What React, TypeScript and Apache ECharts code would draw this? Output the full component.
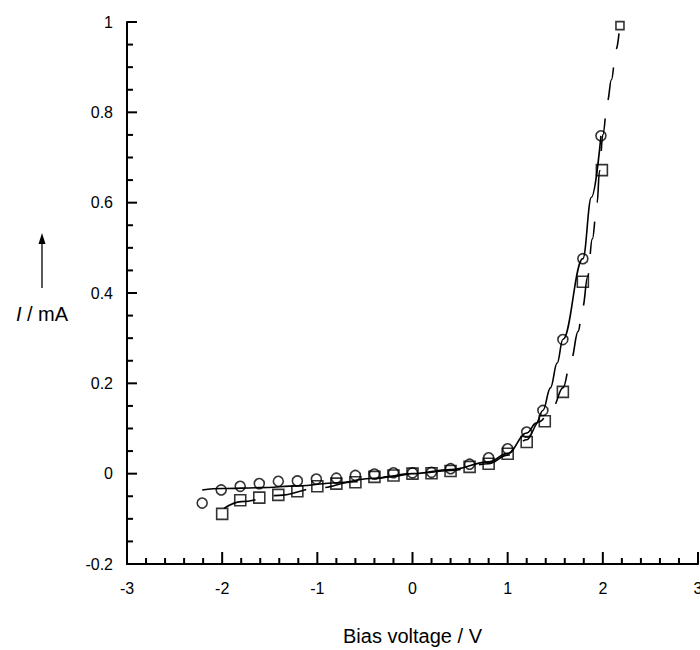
import React, { useEffect, useRef } from "react";
import * as echarts from "echarts";

// Measured points: circles (solid fit) and squares (dashed fit)
const circleV = [-2.21, -2.01, -1.81, -1.61, -1.41, -1.21, -1.01, -0.8, -0.6, -0.4, -0.2, 0, 0.2, 0.4, 0.6, 0.8, 1.0, 1.2, 1.37, 1.58, 1.79, 1.98];
const circleI = [-0.065, -0.036, -0.028, -0.022, -0.017, -0.016, -0.012, -0.01, -0.004, -0.001, 0.002, 0.002, 0.003, 0.011, 0.021, 0.035, 0.055, 0.092, 0.14, 0.297, 0.476, 0.748];

const squareV = [-2.0, -1.81, -1.61, -1.41, -1.21, -1.0, -0.8, -0.6, -0.4, -0.2, 0, 0.2, 0.4, 0.6, 0.8, 1.0, 1.2, 1.39, 1.58, 1.79, 1.99, 2.18];
const squareI = [-0.089, -0.059, -0.053, -0.047, -0.039, -0.028, -0.022, -0.019, -0.007, -0.004, 0.0, 0.001, 0.006, 0.015, 0.022, 0.044, 0.07, 0.116, 0.181, 0.425, 0.672, 0.992];

// Hand-drawn fit curves
const solidFitV = [-2.21, -2.0, -1.6, -1.2, -0.8, -0.4, 0, 0.4, 0.8, 1.0, 1.2, 1.3, 1.37, 1.45, 1.52, 1.58, 1.79, 1.88, 1.98];
const solidFitI = [-0.036, -0.033, -0.031, -0.027, -0.02, -0.01, 0.0, 0.009, 0.026, 0.045, 0.09, 0.112, 0.14, 0.19, 0.245, 0.297, 0.476, 0.612, 0.748];

const dashFitV = [-1.98, -1.8, -1.4, -1.0, -0.6, -0.2, 0, 0.4, 0.8, 1.0, 1.2, 1.33, 1.48, 1.58, 1.67, 1.74, 1.79, 1.84, 1.89, 1.94, 1.965, 2.0, 2.05, 2.09, 2.14, 2.17];
const dashFitI = [-0.077, -0.062, -0.048, -0.032, -0.018, -0.006, 0.0, 0.007, 0.022, 0.041, 0.075, 0.115, 0.15, 0.19, 0.255, 0.315, 0.37, 0.436, 0.52, 0.6, 0.67, 0.75, 0.826, 0.872, 0.94, 0.975];

const xTicks = { min: -3, max: 3, interval: 1, minorSplit: 5 };
const yTicks = { min: -0.2, max: 1, interval: 0.2, minorSplit: 4 };

const xTitle = "Bias voltage / V";

const zip = (a: number[], b: number[]) => a.map((v, i) => [v, b[i]]);

const FONT = "'Liberation Sans', Arial, Helvetica, sans-serif";

// tick values (kind: 0 minor x, 1 major x, 2 minor y, 3 major y)
function tickList() {
  const out: number[][] = [];
  const nx = Math.round((xTicks.max - xTicks.min) / xTicks.interval) * xTicks.minorSplit;
  for (let i = 0; i <= nx; i++) {
    const v = +(xTicks.min + (i * xTicks.interval) / xTicks.minorSplit).toFixed(6);
    out.push([v, i % xTicks.minorSplit === 0 ? 1 : 0]);
  }
  const ny = Math.round((yTicks.max - yTicks.min) / yTicks.interval) * yTicks.minorSplit;
  for (let i = 0; i <= ny; i++) {
    const v = +(yTicks.min + (i * yTicks.interval) / yTicks.minorSplit).toFixed(6);
    out.push([v, i % yTicks.minorSplit === 0 ? 3 : 2]);
  }
  return out;
}

export default function App() {
  const ref = useRef<HTMLDivElement>(null);
  useEffect(() => {
    if (!ref.current) return;
    const chart = echarts.init(ref.current, undefined, { renderer: "svg" });
    const squareData = zip(squareV, squareI).map((p, i) =>
      i === squareV.length - 1 ? { value: p, symbolSize: 8 } : { value: p }
    );
    chart.setOption({
      animation: false,
      backgroundColor: "#ffffff",
      grid: { left: 127, right: 2, top: 22, bottom: 86, containLabel: false, outerBoundsMode: "none" },
      xAxis: {
        type: "value",
        min: xTicks.min,
        max: xTicks.max,
        interval: xTicks.interval,
        name: xTitle,
        nameLocation: "middle",
        nameGap: 62,
        nameTextStyle: { fontFamily: FONT, fontSize: 20, color: "#000" },
        axisLine: { show: true, onZero: false, lineStyle: { color: "#000", width: 2 } },
        axisTick: { show: false },
        minorTick: { show: false },
        axisLabel: { fontFamily: FONT, fontSize: 16, color: "#000", margin: 16 },
        splitLine: { show: false },
        minorSplitLine: { show: false },
      },
      yAxis: {
        type: "value",
        min: yTicks.min,
        max: yTicks.max,
        interval: yTicks.interval,
        axisLine: { show: true, onZero: false, lineStyle: { color: "#000", width: 2 } },
        axisTick: { show: false },
        minorTick: { show: false },
        axisLabel: { fontFamily: FONT, fontSize: 16, color: "#000", margin: 14 },
        splitLine: { show: false },
        minorSplitLine: { show: false },
      },
      graphic: [
        {
          type: "line",
          shape: { x1: 42, y1: 288, x2: 42, y2: 242 },
          style: { stroke: "#000", lineWidth: 1.3 },
        },
        {
          type: "polygon",
          shape: { points: [[42, 233], [38.5, 244], [45.5, 244]] },
          style: { fill: "#000" },
        },
        {
          type: "text",
          x: 42,
          y: 314,
          style: {
            text: "{i|I} / mA",
            fontFamily: FONT,
            fontSize: 20,
            fill: "#000",
            align: "center",
            verticalAlign: "middle",
            rich: { i: { fontStyle: "italic", fontFamily: FONT, fontSize: 20, fill: "#000" } },
          },
        },
      ],
      series: [
        {
          type: "custom",
          silent: true,
          clip: false,
          z: 4,
          data: tickList(),
          renderItem: (_params: any, api: any) => {
            const v = api.value(0);
            const kind = api.value(1);
            if (kind <= 1) {
              const p = api.coord([v, yTicks.min]);
              const len = kind === 1 ? 12 : 6;
              return {
                type: "line",
                shape: { x1: p[0], y1: p[1], x2: p[0], y2: p[1] - len },
                style: { stroke: "#000", lineWidth: 2 },
              };
            }
            const p = api.coord([xTicks.min, v]);
            const len = kind === 3 ? 10 : 6;
            return {
              type: "line",
              shape: { x1: p[0], y1: p[1], x2: p[0] + len, y2: p[1] },
              style: { stroke: "#000", lineWidth: 2 },
            };
          },
        },
        {
          type: "line",
          data: zip(solidFitV, solidFitI),
          showSymbol: false,
          smooth: 0.4,
          smoothMonotone: "x",
          lineStyle: { color: "#000", width: 1.6 },
          z: 2,
        },
        {
          type: "line",
          data: zip(dashFitV, dashFitI),
          showSymbol: false,
          smooth: 0.4,
          smoothMonotone: "x",
          lineStyle: { color: "#000", width: 1.6, type: [33, 19] },
          z: 2,
        },
        {
          type: "scatter",
          data: zip(circleV, circleI),
          symbol: "circle",
          symbolSize: 10,
          itemStyle: { color: "rgba(0,0,0,0)", borderColor: "#000", borderWidth: 1.6 },
          z: 3,
        },
        {
          type: "scatter",
          data: squareData,
          symbol: "rect",
          symbolSize: 11,
          itemStyle: { color: "rgba(0,0,0,0)", borderColor: "#000", borderWidth: 1.6 },
          z: 3,
        },
      ],
    });
    return () => chart.dispose();
  }, []);
  return (
    <div
      ref={ref}
      style={{ position: "absolute", left: 0, top: 0, width: 700, height: 650 }}
    />
  );
}
